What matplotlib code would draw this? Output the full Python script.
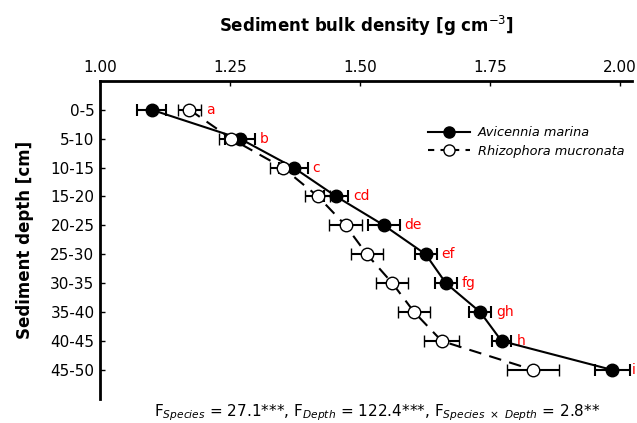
import numpy as np
import matplotlib
matplotlib.use("Agg")
import matplotlib.pyplot as plt
from matplotlib.lines import Line2D

# Depth classes and bulk density values
depths = ["0-5", "5-10", "10-15", "15-20", "20-25", "25-30", "30-35", "35-40", "40-45", "45-50"]
avicennia = [1.099, 1.269, 1.372, 1.454, 1.546, 1.626, 1.665, 1.731, 1.772, 1.985]
avicennia_err = [0.028, 0.029, 0.027, 0.023, 0.030, 0.021, 0.021, 0.021, 0.019, 0.034]
rhizophora = [1.172, 1.252, 1.351, 1.419, 1.472, 1.513, 1.562, 1.604, 1.657, 1.833]
rhizophora_err = [0.022, 0.023, 0.024, 0.024, 0.031, 0.031, 0.031, 0.031, 0.034, 0.050]
letters = ["a", "b", "c", "cd", "de", "ef", "fg", "gh", "h", "i"]
xticks = [1.00, 1.25, 1.50, 1.75, 2.00]

plt.rcParams["font.family"] = "DejaVu Sans"
plt.rcParams["mathtext.fontset"] = "dejavusans"

fig = plt.figure(figsize=(6.37, 4.23), dpi=100)
ax = fig.add_axes([0.157, 0.057, 0.835, 0.752])

pos = np.arange(len(depths))
dash = (0, (6, 4))

ax.errorbar(avicennia, pos, xerr=avicennia_err, color="black", lw=1.5,
            marker="o", ms=9, mfc="black", mec="black", capsize=4.5,
            capthick=1.5, elinewidth=1.5, zorder=3)
ax.errorbar(rhizophora, pos, xerr=rhizophora_err, color="black", lw=1.5,
            ls=dash, marker="o", ms=9, mfc="white", mec="black",
            mew=1.0, capsize=4.5, capthick=1.5, elinewidth=1.5, zorder=4)

# significance letters right of the outermost error bar
for i, lab in enumerate(letters):
    right = max(avicennia[i] + avicennia_err[i], rhizophora[i] + rhizophora_err[i])
    off = 1.5 if i == len(letters) - 1 else 3.5
    ax.annotate(lab, (right, pos[i]), xytext=(off, 0), textcoords="offset points",
                color="#ff0000", fontsize=10, ha="left", va="center",
                annotation_clip=False)

ax.set_xlim(1.0, 2.0225)
ax.set_ylim(10, -1)
ax.set_xticks(xticks)
ax.set_xticklabels([f"{t:.2f}" for t in xticks])
ax.set_yticks(pos)
ax.set_yticklabels(depths)
ax.xaxis.tick_top()
ax.xaxis.set_label_position("top")
ax.tick_params(axis="both", direction="in", length=3.5, width=1.0, labelsize=11)
ax.tick_params(axis="x", pad=4)
ax.tick_params(axis="y", pad=4)

for s in ["right", "bottom"]:
    ax.spines[s].set_visible(False)
for s in ["left", "top"]:
    ax.spines[s].set_linewidth(2.0)

ax.set_xlabel(r"Sediment bulk density [g cm$^{-3}$]", fontsize=12,
              fontweight="bold", labelpad=20)
ax.set_ylabel("Sediment depth [cm]", fontsize=12, fontweight="bold", labelpad=12)

handles = [
    Line2D([], [], color="black", lw=1.5, marker="o", ms=8, mfc="black", mec="black"),
    Line2D([], [], color="black", lw=1.5, ls=(0, (3, 3)), marker="o", ms=8,
           mfc="white", mec="black", mew=1.0),
]
leg = ax.legend(handles, ["Avicennia marina", "Rhizophora mucronata"],
                loc="upper left", bbox_to_anchor=(0.594, 0.893), frameon=False,
                fontsize=9.3, handlelength=3.3, handletextpad=0.6,
                labelspacing=0.4)
for t in leg.get_texts():
    t.set_style("italic")

fig.text(0.592, 0.024,
         r"F$_{Species}$ = 27.1***, F$_{Depth}$ = 122.4***, F$_{Species\ \times\ Depth}$ = 2.8**",
         ha="center", va="center", fontsize=11)

fig.savefig("out.png", dpi=100)
